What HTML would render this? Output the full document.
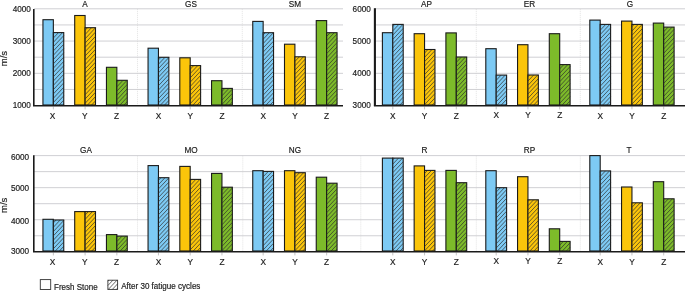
<!DOCTYPE html>
<html><head><meta charset="utf-8"><title>chart</title>
<style>
html,body{margin:0;padding:0;background:#fff}
svg{display:block}
text{font-family:"Liberation Sans",Arial,sans-serif;fill:#1c1c1c;stroke:#1c1c1c;stroke-width:0.18px}
.t{font-size:8.2px}
.u{font-size:9.5px}
.l{font-size:8.2px}
.g{stroke:#cbcbcf;stroke-width:0.9}
.d{stroke:#d0d0d0;stroke-width:0.6;stroke-dasharray:1 1}
.b{stroke:#1a1a1a;stroke-width:1.1}
.lb{stroke:#333;stroke-width:0.9}
.ax{stroke:#1a1a1a;stroke-width:1.6;fill:none}
.h{stroke:#2c2c2c;stroke-width:0.7;fill:none}
.tk{stroke:#b5b5b5;stroke-width:0.8}
.x{font-size:8.3px}
</style></head><body>
<svg width="685" height="291" viewBox="0 0 685 291">
<rect width="685" height="291" fill="#fff"/>
<g opacity="0.999">
<line x1="34" y1="8.80" x2="343" y2="8.80" class="g"/>
<line x1="34" y1="24.93" x2="343" y2="24.93" class="g"/>
<line x1="34" y1="41.07" x2="343" y2="41.07" class="g"/>
<line x1="34" y1="57.20" x2="343" y2="57.20" class="g"/>
<line x1="34" y1="73.33" x2="343" y2="73.33" class="g"/>
<line x1="34" y1="89.47" x2="343" y2="89.47" class="g"/>
<line x1="137.5" y1="8.8" x2="137.5" y2="105.0" class="d"/>
<line x1="242.3" y1="8.8" x2="242.3" y2="105.0" class="d"/>
<line x1="375.5" y1="8.80" x2="685" y2="8.80" class="g"/>
<line x1="375.5" y1="24.93" x2="685" y2="24.93" class="g"/>
<line x1="375.5" y1="41.07" x2="685" y2="41.07" class="g"/>
<line x1="375.5" y1="57.20" x2="685" y2="57.20" class="g"/>
<line x1="375.5" y1="73.33" x2="685" y2="73.33" class="g"/>
<line x1="375.5" y1="89.47" x2="685" y2="89.47" class="g"/>
<line x1="476.3" y1="8.8" x2="476.3" y2="105.0" class="d"/>
<line x1="580.3" y1="8.8" x2="580.3" y2="105.0" class="d"/>
<line x1="34" y1="155.60" x2="685" y2="155.60" class="g"/>
<line x1="34" y1="171.63" x2="685" y2="171.63" class="g"/>
<line x1="34" y1="187.67" x2="685" y2="187.67" class="g"/>
<line x1="34" y1="203.70" x2="685" y2="203.70" class="g"/>
<line x1="34" y1="219.73" x2="685" y2="219.73" class="g"/>
<line x1="34" y1="235.77" x2="685" y2="235.77" class="g"/>
<line x1="137.5" y1="155.6" x2="137.5" y2="251.0" class="d"/>
<line x1="242.8" y1="155.6" x2="242.8" y2="251.0" class="d"/>
<line x1="360.8" y1="155.6" x2="360.8" y2="251.0" class="d"/>
<line x1="476.3" y1="155.6" x2="476.3" y2="251.0" class="d"/>
<line x1="580.3" y1="155.6" x2="580.3" y2="251.0" class="d"/>
<text x="85" y="7.4" class="t" text-anchor="middle">A</text>
<rect x="42.95" y="19.70" width="10.4" height="85.30" fill="#7dcaf4" class="b"/>
<rect x="53.35" y="32.60" width="10.4" height="72.40" fill="#7dcaf4" class="b"/>
<path d="M53.35 33.75L54.43 32.60M53.35 38.05L58.49 32.60M53.35 42.35L62.55 32.60M53.35 46.65L63.75 35.62M53.35 50.95L63.75 39.92M53.35 55.25L63.75 44.22M53.35 59.55L63.75 48.52M53.35 63.85L63.75 52.82M53.35 68.15L63.75 57.12M53.35 72.45L63.75 61.42M53.35 76.75L63.75 65.72M53.35 81.05L63.75 70.02M53.35 85.35L63.75 74.33M53.35 89.65L63.75 78.62M53.35 93.95L63.75 82.92M53.35 98.25L63.75 87.22M53.35 102.55L63.75 91.52M55.09 105.00L63.75 95.83M59.15 105.00L63.75 100.12M63.21 105.00L63.75 104.42" class="h"/>
<line x1="53.35" y1="106.6" x2="53.35" y2="109.4" class="tk"/>
<text x="52.55" y="118.7" class="x" text-anchor="middle">X</text>
<rect x="74.70" y="15.50" width="10.4" height="89.50" fill="#fbc50a" class="b"/>
<rect x="85.10" y="27.70" width="10.4" height="77.30" fill="#fbc50a" class="b"/>
<path d="M85.10 30.19L87.45 27.70M85.10 34.49L91.51 27.70M85.10 38.79L95.50 27.77M85.10 43.09L95.50 32.07M85.10 47.39L95.50 36.37M85.10 51.69L95.50 40.67M85.10 55.99L95.50 44.97M85.10 60.29L95.50 49.27M85.10 64.59L95.50 53.57M85.10 68.89L95.50 57.87M85.10 73.19L95.50 62.17M85.10 77.49L95.50 66.47M85.10 81.79L95.50 70.77M85.10 86.09L95.50 75.07M85.10 90.39L95.50 79.37M85.10 94.69L95.50 83.67M85.10 98.99L95.50 87.97M85.10 103.29L95.50 92.27M87.55 105.00L95.50 96.57M91.60 105.00L95.50 100.87" class="h"/>
<line x1="85.10" y1="106.6" x2="85.10" y2="109.4" class="tk"/>
<text x="84.80" y="118.7" class="x" text-anchor="middle">Y</text>
<rect x="106.45" y="67.30" width="10.4" height="37.70" fill="#7dbb2a" class="b"/>
<rect x="116.85" y="80.30" width="10.4" height="24.70" fill="#7dbb2a" class="b"/>
<path d="M116.85 82.54L118.96 80.30M116.85 86.84L123.02 80.30M116.85 91.14L127.08 80.30M116.85 95.44L127.25 84.41M116.85 99.74L127.25 88.71M116.85 104.04L127.25 93.01M120.00 105.00L127.25 97.31M124.06 105.00L127.25 101.61" class="h"/>
<line x1="116.85" y1="106.6" x2="116.85" y2="109.4" class="tk"/>
<text x="116.55" y="118.7" class="x" text-anchor="middle">Z</text>
<text x="191" y="7.4" class="t" text-anchor="middle">GS</text>
<rect x="148.05" y="48.20" width="10.4" height="56.80" fill="#7dcaf4" class="b"/>
<rect x="158.45" y="57.30" width="10.4" height="47.70" fill="#7dcaf4" class="b"/>
<path d="M158.45 59.94L160.94 57.30M158.45 64.24L165.00 57.30M158.45 68.54L168.85 57.52M158.45 72.84L168.85 61.82M158.45 77.14L168.85 66.12M158.45 81.44L168.85 70.42M158.45 85.74L168.85 74.72M158.45 90.04L168.85 79.02M158.45 94.34L168.85 83.32M158.45 98.64L168.85 87.62M158.45 102.94L168.85 91.92M160.57 105.00L168.85 96.22M164.62 105.00L168.85 100.52" class="h"/>
<line x1="158.45" y1="106.6" x2="158.45" y2="109.4" class="tk"/>
<text x="158.45" y="118.7" class="x" text-anchor="middle">X</text>
<rect x="179.80" y="57.80" width="10.4" height="47.20" fill="#fbc50a" class="b"/>
<rect x="190.20" y="65.60" width="10.4" height="39.40" fill="#fbc50a" class="b"/>
<path d="M190.20 69.29L193.68 65.60M190.20 73.59L197.74 65.60M190.20 77.89L200.60 66.86M190.20 82.19L200.60 71.16M190.20 86.49L200.60 75.46M190.20 90.79L200.60 79.76M190.20 95.09L200.60 84.06M190.20 99.39L200.60 88.36M190.20 103.69L200.60 92.66M193.02 105.00L200.60 96.96M197.08 105.00L200.60 101.26" class="h"/>
<line x1="190.20" y1="106.6" x2="190.20" y2="109.4" class="tk"/>
<text x="190.20" y="118.7" class="x" text-anchor="middle">Y</text>
<rect x="211.55" y="80.70" width="10.4" height="24.30" fill="#7dbb2a" class="b"/>
<rect x="221.95" y="88.40" width="10.4" height="16.60" fill="#7dbb2a" class="b"/>
<path d="M221.95 91.53L224.91 88.40M221.95 95.83L228.96 88.40M221.95 100.13L232.35 89.11M221.95 104.43L232.35 93.41M225.47 105.00L232.35 97.71M229.53 105.00L232.35 102.01" class="h"/>
<line x1="221.95" y1="106.6" x2="221.95" y2="109.4" class="tk"/>
<text x="221.95" y="118.7" class="x" text-anchor="middle">Z</text>
<text x="295" y="7.4" class="t" text-anchor="middle">SM</text>
<rect x="252.75" y="21.40" width="10.4" height="83.60" fill="#7dcaf4" class="b"/>
<rect x="263.15" y="32.70" width="10.4" height="72.30" fill="#7dcaf4" class="b"/>
<path d="M263.15 34.96L265.28 32.70M263.15 39.26L269.34 32.70M263.15 43.56L273.40 32.70M263.15 47.86L273.55 36.84M263.15 52.16L273.55 41.14M263.15 56.46L273.55 45.44M263.15 60.76L273.55 49.74M263.15 65.06L273.55 54.04M263.15 69.36L273.55 58.34M263.15 73.66L273.55 62.64M263.15 77.96L273.55 66.94M263.15 82.26L273.55 71.24M263.15 86.56L273.55 75.54M263.15 90.86L273.55 79.84M263.15 95.16L273.55 84.14M263.15 99.46L273.55 88.44M263.15 103.76L273.55 92.74M266.04 105.00L273.55 97.04M270.09 105.00L273.55 101.34" class="h"/>
<line x1="263.15" y1="106.6" x2="263.15" y2="109.4" class="tk"/>
<text x="263.15" y="118.7" class="x" text-anchor="middle">X</text>
<rect x="284.50" y="44.20" width="10.4" height="60.80" fill="#fbc50a" class="b"/>
<rect x="294.90" y="56.80" width="10.4" height="48.20" fill="#fbc50a" class="b"/>
<path d="M294.90 57.21L295.28 56.80M294.90 61.51L299.34 56.80M294.90 65.81L303.40 56.80M294.90 70.11L305.30 59.08M294.90 74.41L305.30 63.38M294.90 78.71L305.30 67.68M294.90 83.01L305.30 71.98M294.90 87.31L305.30 76.28M294.90 91.61L305.30 80.58M294.90 95.91L305.30 84.88M294.90 100.21L305.30 89.18M294.90 104.51L305.30 93.48M298.49 105.00L305.30 97.78M302.55 105.00L305.30 102.08" class="h"/>
<line x1="294.90" y1="106.6" x2="294.90" y2="109.4" class="tk"/>
<text x="294.90" y="118.7" class="x" text-anchor="middle">Y</text>
<rect x="316.25" y="20.60" width="10.4" height="84.40" fill="#7dbb2a" class="b"/>
<rect x="326.65" y="32.70" width="10.4" height="72.30" fill="#7dbb2a" class="b"/>
<path d="M326.65 36.45L330.19 32.70M326.65 40.75L334.25 32.70M326.65 45.05L337.05 34.03M326.65 49.35L337.05 38.33M326.65 53.65L337.05 42.63M326.65 57.95L337.05 46.93M326.65 62.25L337.05 51.23M326.65 66.55L337.05 55.53M326.65 70.85L337.05 59.83M326.65 75.15L337.05 64.13M326.65 79.45L337.05 68.43M326.65 83.75L337.05 72.73M326.65 88.05L337.05 77.03M326.65 92.35L337.05 81.33M326.65 96.65L337.05 85.63M326.65 100.95L337.05 89.93M326.89 105.00L337.05 94.23M330.94 105.00L337.05 98.53M335.00 105.00L337.05 102.83" class="h"/>
<line x1="326.65" y1="106.6" x2="326.65" y2="109.4" class="tk"/>
<text x="326.65" y="118.7" class="x" text-anchor="middle">Z</text>
<text x="426.5" y="6.6" class="t" text-anchor="middle">AP</text>
<rect x="382.40" y="32.70" width="10.4" height="72.30" fill="#7dcaf4" class="b"/>
<rect x="392.80" y="24.40" width="10.4" height="80.60" fill="#7dcaf4" class="b"/>
<path d="M392.80 26.53L394.81 24.40M392.80 30.83L398.87 24.40M392.80 35.13L402.92 24.40M392.80 39.43L403.20 28.41M392.80 43.73L403.20 32.71M392.80 48.03L403.20 37.01M392.80 52.33L403.20 41.31M392.80 56.63L403.20 45.61M392.80 60.93L403.20 49.91M392.80 65.23L403.20 54.21M392.80 69.53L403.20 58.51M392.80 73.83L403.20 62.81M392.80 78.13L403.20 67.11M392.80 82.43L403.20 71.41M392.80 86.73L403.20 75.71M392.80 91.03L403.20 80.01M392.80 95.33L403.20 84.31M392.80 99.63L403.20 88.61M392.80 103.93L403.20 92.91M395.85 105.00L403.20 97.21M399.91 105.00L403.20 101.51" class="h"/>
<line x1="392.80" y1="106.6" x2="392.80" y2="109.4" class="tk"/>
<text x="392.80" y="118.7" class="x" text-anchor="middle">X</text>
<rect x="414.15" y="33.70" width="10.4" height="71.30" fill="#fbc50a" class="b"/>
<rect x="424.55" y="49.50" width="10.4" height="55.50" fill="#fbc50a" class="b"/>
<path d="M424.55 53.08L427.92 49.50M424.55 57.38L431.98 49.50M424.55 61.68L434.95 50.65M424.55 65.98L434.95 54.95M424.55 70.28L434.95 59.25M424.55 74.58L434.95 63.55M424.55 78.88L434.95 67.85M424.55 83.18L434.95 72.15M424.55 87.48L434.95 76.45M424.55 91.78L434.95 80.75M424.55 96.08L434.95 85.05M424.55 100.38L434.95 89.35M424.55 104.68L434.95 93.65M428.30 105.00L434.95 97.95M432.36 105.00L434.95 102.25" class="h"/>
<line x1="424.55" y1="106.6" x2="424.55" y2="109.4" class="tk"/>
<text x="424.55" y="118.7" class="x" text-anchor="middle">Y</text>
<rect x="445.90" y="32.90" width="10.4" height="72.10" fill="#7dbb2a" class="b"/>
<rect x="456.30" y="57.00" width="10.4" height="48.00" fill="#7dbb2a" class="b"/>
<path d="M456.30 58.12L457.36 57.00M456.30 62.42L461.42 57.00M456.30 66.72L465.47 57.00M456.30 71.02L466.70 60.00M456.30 75.32L466.70 64.30M456.30 79.62L466.70 68.60M456.30 83.92L466.70 72.90M456.30 88.22L466.70 77.20M456.30 92.52L466.70 81.50M456.30 96.82L466.70 85.80M456.30 101.12L466.70 90.10M456.70 105.00L466.70 94.40M460.75 105.00L466.70 98.70M464.81 105.00L466.70 103.00" class="h"/>
<line x1="456.30" y1="106.6" x2="456.30" y2="109.4" class="tk"/>
<text x="456.30" y="118.7" class="x" text-anchor="middle">Z</text>
<text x="529.5" y="6.6" class="t" text-anchor="middle">ER</text>
<rect x="485.80" y="48.70" width="10.4" height="56.30" fill="#7dcaf4" class="b"/>
<rect x="496.20" y="75.10" width="10.4" height="29.90" fill="#7dcaf4" class="b"/>
<path d="M496.20 76.03L497.08 75.10M496.20 80.33L501.13 75.10M496.20 84.63L505.19 75.10M496.20 88.93L506.60 77.90M496.20 93.23L506.60 82.20M496.20 97.53L506.60 86.50M496.20 101.83L506.60 90.80M497.26 105.00L506.60 95.10M501.32 105.00L506.60 99.40M505.38 105.00L506.60 103.70" class="h"/>
<line x1="496.20" y1="106.6" x2="496.20" y2="109.4" class="tk"/>
<text x="496.20" y="117.8" class="x" text-anchor="middle">X</text>
<rect x="517.55" y="44.70" width="10.4" height="60.30" fill="#fbc50a" class="b"/>
<rect x="527.95" y="75.00" width="10.4" height="30.00" fill="#fbc50a" class="b"/>
<path d="M527.95 76.77L529.62 75.00M527.95 81.07L533.68 75.00M527.95 85.37L537.74 75.00M527.95 89.67L538.35 78.65M527.95 93.97L538.35 82.95M527.95 98.27L538.35 87.25M527.95 102.57L538.35 91.55M529.72 105.00L538.35 95.85M533.77 105.00L538.35 100.15M537.83 105.00L538.35 104.45" class="h"/>
<line x1="527.95" y1="106.6" x2="527.95" y2="109.4" class="tk"/>
<text x="527.95" y="117.8" class="x" text-anchor="middle">Y</text>
<rect x="549.30" y="33.70" width="10.4" height="71.30" fill="#7dbb2a" class="b"/>
<rect x="559.70" y="64.60" width="10.4" height="40.40" fill="#7dbb2a" class="b"/>
<path d="M559.70 68.92L563.77 64.60M559.70 73.22L567.83 64.60M559.70 77.52L570.10 66.49M559.70 81.82L570.10 70.79M559.70 86.12L570.10 75.09M559.70 90.42L570.10 79.39M559.70 94.72L570.10 83.69M559.70 99.02L570.10 87.99M559.70 103.32L570.10 92.29M562.17 105.00L570.10 96.59M566.23 105.00L570.10 100.89" class="h"/>
<line x1="559.70" y1="106.6" x2="559.70" y2="109.4" class="tk"/>
<text x="559.70" y="117.8" class="x" text-anchor="middle">Z</text>
<text x="630" y="6.6" class="t" text-anchor="middle">G</text>
<rect x="589.80" y="20.10" width="10.4" height="84.90" fill="#7dcaf4" class="b"/>
<rect x="600.20" y="24.40" width="10.4" height="80.60" fill="#7dcaf4" class="b"/>
<path d="M600.20 25.99L601.70 24.40M600.20 30.29L605.75 24.40M600.20 34.59L609.81 24.40M600.20 38.89L610.60 27.86M600.20 43.19L610.60 32.16M600.20 47.49L610.60 36.46M600.20 51.79L610.60 40.76M600.20 56.09L610.60 45.06M600.20 60.39L610.60 49.36M600.20 64.69L610.60 53.66M600.20 68.99L610.60 57.96M600.20 73.29L610.60 62.26M600.20 77.59L610.60 66.56M600.20 81.89L610.60 70.86M600.20 86.19L610.60 75.16M600.20 90.49L610.60 79.46M600.20 94.79L610.60 83.76M600.20 99.09L610.60 88.06M600.20 103.39L610.60 92.36M602.74 105.00L610.60 96.66M606.79 105.00L610.60 100.96" class="h"/>
<line x1="600.20" y1="106.6" x2="600.20" y2="109.4" class="tk"/>
<text x="600.20" y="118.7" class="x" text-anchor="middle">X</text>
<rect x="621.55" y="21.10" width="10.4" height="83.90" fill="#fbc50a" class="b"/>
<rect x="631.95" y="24.40" width="10.4" height="80.60" fill="#fbc50a" class="b"/>
<path d="M631.95 26.73L634.15 24.40M631.95 31.03L638.21 24.40M631.95 35.33L642.26 24.40M631.95 39.63L642.35 28.61M631.95 43.93L642.35 32.91M631.95 48.23L642.35 37.21M631.95 52.53L642.35 41.51M631.95 56.83L642.35 45.81M631.95 61.13L642.35 50.11M631.95 65.43L642.35 54.41M631.95 69.73L642.35 58.71M631.95 74.03L642.35 63.01M631.95 78.33L642.35 67.31M631.95 82.63L642.35 71.61M631.95 86.93L642.35 75.91M631.95 91.23L642.35 80.21M631.95 95.53L642.35 84.51M631.95 99.83L642.35 88.81M631.95 104.13L642.35 93.11M635.19 105.00L642.35 97.41M639.25 105.00L642.35 101.71" class="h"/>
<line x1="631.95" y1="106.6" x2="631.95" y2="109.4" class="tk"/>
<text x="631.95" y="118.7" class="x" text-anchor="middle">Y</text>
<rect x="653.30" y="23.10" width="10.4" height="81.90" fill="#7dbb2a" class="b"/>
<rect x="663.70" y="27.10" width="10.4" height="77.90" fill="#7dbb2a" class="b"/>
<path d="M663.70 27.48L664.06 27.10M663.70 31.78L668.11 27.10M663.70 36.08L672.17 27.10M663.70 40.38L674.10 29.35M663.70 44.68L674.10 33.65M663.70 48.98L674.10 37.95M663.70 53.28L674.10 42.25M663.70 57.58L674.10 46.55M663.70 61.88L674.10 50.85M663.70 66.18L674.10 55.15M663.70 70.48L674.10 59.45M663.70 74.78L674.10 63.75M663.70 79.08L674.10 68.05M663.70 83.38L674.10 72.35M663.70 87.68L674.10 76.65M663.70 91.98L674.10 80.95M663.70 96.28L674.10 85.25M663.70 100.58L674.10 89.55M663.70 104.88L674.10 93.85M667.64 105.00L674.10 98.15M671.70 105.00L674.10 102.45" class="h"/>
<line x1="663.70" y1="106.6" x2="663.70" y2="109.4" class="tk"/>
<text x="663.70" y="118.7" class="x" text-anchor="middle">Z</text>
<text x="86" y="153.4" class="t" text-anchor="middle">GA</text>
<rect x="42.95" y="219.30" width="10.4" height="31.70" fill="#7dcaf4" class="b"/>
<rect x="53.35" y="220.00" width="10.4" height="31.00" fill="#7dcaf4" class="b"/>
<path d="M53.35 222.95L56.13 220.00M53.35 227.25L60.19 220.00M53.35 231.55L63.75 220.52M53.35 235.85L63.75 224.82M53.35 240.15L63.75 229.12M53.35 244.45L63.75 233.43M53.35 248.75L63.75 237.73M55.28 251.00L63.75 242.02M59.34 251.00L63.75 246.32M63.40 251.00L63.75 250.62" class="h"/>
<line x1="53.35" y1="252.6" x2="53.35" y2="255.4" class="tk"/>
<text x="52.55" y="264.7" class="x" text-anchor="middle">X</text>
<rect x="74.70" y="211.60" width="10.4" height="39.40" fill="#fbc50a" class="b"/>
<rect x="85.10" y="211.60" width="10.4" height="39.40" fill="#fbc50a" class="b"/>
<path d="M85.10 215.09L88.40 211.60M85.10 219.39L92.45 211.60M85.10 223.69L95.50 212.67M85.10 227.99L95.50 216.97M85.10 232.29L95.50 221.27M85.10 236.59L95.50 225.57M85.10 240.89L95.50 229.87M85.10 245.19L95.50 234.17M85.10 249.49L95.50 238.47M87.74 251.00L95.50 242.77M91.79 251.00L95.50 247.07" class="h"/>
<line x1="85.10" y1="252.6" x2="85.10" y2="255.4" class="tk"/>
<text x="84.80" y="264.7" class="x" text-anchor="middle">Y</text>
<rect x="106.45" y="234.60" width="10.4" height="16.40" fill="#7dbb2a" class="b"/>
<rect x="116.85" y="236.10" width="10.4" height="14.90" fill="#7dbb2a" class="b"/>
<path d="M116.85 237.34L118.02 236.10M116.85 241.64L122.08 236.10M116.85 245.94L126.13 236.10M116.85 250.24L127.25 239.21M120.19 251.00L127.25 243.51M124.25 251.00L127.25 247.81" class="h"/>
<line x1="116.85" y1="252.6" x2="116.85" y2="255.4" class="tk"/>
<text x="116.55" y="264.7" class="x" text-anchor="middle">Z</text>
<text x="191" y="153.4" class="t" text-anchor="middle">MO</text>
<rect x="148.05" y="165.60" width="10.4" height="85.40" fill="#7dcaf4" class="b"/>
<rect x="158.45" y="177.70" width="10.4" height="73.30" fill="#7dcaf4" class="b"/>
<path d="M158.45 180.34L160.94 177.70M158.45 184.64L165.00 177.70M158.45 188.94L168.85 177.92M158.45 193.24L168.85 182.22M158.45 197.54L168.85 186.52M158.45 201.84L168.85 190.82M158.45 206.14L168.85 195.12M158.45 210.44L168.85 199.42M158.45 214.74L168.85 203.72M158.45 219.04L168.85 208.02M158.45 223.34L168.85 212.32M158.45 227.64L168.85 216.62M158.45 231.94L168.85 220.92M158.45 236.24L168.85 225.22M158.45 240.54L168.85 229.52M158.45 244.84L168.85 233.82M158.45 249.14L168.85 238.12M160.75 251.00L168.85 242.42M164.81 251.00L168.85 246.72" class="h"/>
<line x1="158.45" y1="252.6" x2="158.45" y2="255.4" class="tk"/>
<text x="158.45" y="264.7" class="x" text-anchor="middle">X</text>
<rect x="179.80" y="166.40" width="10.4" height="84.60" fill="#fbc50a" class="b"/>
<rect x="190.20" y="179.40" width="10.4" height="71.60" fill="#fbc50a" class="b"/>
<path d="M190.20 181.09L191.79 179.40M190.20 185.39L195.85 179.40M190.20 189.69L199.91 179.40M190.20 193.99L200.60 182.96M190.20 198.29L200.60 187.26M190.20 202.59L200.60 191.56M190.20 206.89L200.60 195.86M190.20 211.19L200.60 200.16M190.20 215.49L200.60 204.46M190.20 219.79L200.60 208.76M190.20 224.09L200.60 213.06M190.20 228.39L200.60 217.36M190.20 232.69L200.60 221.66M190.20 236.99L200.60 225.96M190.20 241.29L200.60 230.26M190.20 245.59L200.60 234.56M190.20 249.89L200.60 238.86M193.21 251.00L200.60 243.16M197.26 251.00L200.60 247.46" class="h"/>
<line x1="190.20" y1="252.6" x2="190.20" y2="255.4" class="tk"/>
<text x="190.20" y="264.7" class="x" text-anchor="middle">Y</text>
<rect x="211.55" y="173.40" width="10.4" height="77.60" fill="#7dbb2a" class="b"/>
<rect x="221.95" y="187.20" width="10.4" height="63.80" fill="#7dbb2a" class="b"/>
<path d="M221.95 190.43L225.00 187.20M221.95 194.73L229.06 187.20M221.95 199.03L232.35 188.01M221.95 203.33L232.35 192.31M221.95 207.63L232.35 196.61M221.95 211.93L232.35 200.91M221.95 216.23L232.35 205.21M221.95 220.53L232.35 209.51M221.95 224.83L232.35 213.81M221.95 229.13L232.35 218.11M221.95 233.43L232.35 222.41M221.95 237.73L232.35 226.71M221.95 242.03L232.35 231.01M221.95 246.33L232.35 235.31M221.95 250.63L232.35 239.61M225.66 251.00L232.35 243.91M229.72 251.00L232.35 248.21" class="h"/>
<line x1="221.95" y1="252.6" x2="221.95" y2="255.4" class="tk"/>
<text x="221.95" y="264.7" class="x" text-anchor="middle">Z</text>
<text x="295" y="153.4" class="t" text-anchor="middle">NG</text>
<rect x="252.75" y="170.70" width="10.4" height="80.30" fill="#7dcaf4" class="b"/>
<rect x="263.15" y="171.40" width="10.4" height="79.60" fill="#7dcaf4" class="b"/>
<path d="M263.15 172.56L264.25 171.40M263.15 176.86L268.30 171.40M263.15 181.16L272.36 171.40M263.15 185.46L273.55 174.44M263.15 189.76L273.55 178.74M263.15 194.06L273.55 183.04M263.15 198.36L273.55 187.34M263.15 202.66L273.55 191.64M263.15 206.96L273.55 195.94M263.15 211.26L273.55 200.24M263.15 215.56L273.55 204.54M263.15 219.86L273.55 208.84M263.15 224.16L273.55 213.14M263.15 228.46L273.55 217.44M263.15 232.76L273.55 221.74M263.15 237.06L273.55 226.04M263.15 241.36L273.55 230.34M263.15 245.66L273.55 234.64M263.15 249.96L273.55 238.94M266.23 251.00L273.55 243.24M270.28 251.00L273.55 247.54" class="h"/>
<line x1="263.15" y1="252.6" x2="263.15" y2="255.4" class="tk"/>
<text x="263.15" y="264.7" class="x" text-anchor="middle">X</text>
<rect x="284.50" y="170.70" width="10.4" height="80.30" fill="#fbc50a" class="b"/>
<rect x="294.90" y="172.70" width="10.4" height="78.30" fill="#fbc50a" class="b"/>
<path d="M294.90 173.31L295.47 172.70M294.90 177.61L299.53 172.70M294.90 181.91L303.58 172.70M294.90 186.21L305.30 175.18M294.90 190.51L305.30 179.48M294.90 194.81L305.30 183.78M294.90 199.11L305.30 188.08M294.90 203.41L305.30 192.38M294.90 207.71L305.30 196.68M294.90 212.01L305.30 200.98M294.90 216.31L305.30 205.28M294.90 220.61L305.30 209.58M294.90 224.91L305.30 213.88M294.90 229.21L305.30 218.18M294.90 233.51L305.30 222.48M294.90 237.81L305.30 226.78M294.90 242.11L305.30 231.08M294.90 246.41L305.30 235.38M294.90 250.71L305.30 239.68M298.68 251.00L305.30 243.98M302.74 251.00L305.30 248.28" class="h"/>
<line x1="294.90" y1="252.6" x2="294.90" y2="255.4" class="tk"/>
<text x="294.90" y="264.7" class="x" text-anchor="middle">Y</text>
<rect x="316.25" y="177.20" width="10.4" height="73.80" fill="#7dbb2a" class="b"/>
<rect x="326.65" y="183.20" width="10.4" height="67.80" fill="#7dbb2a" class="b"/>
<path d="M326.65 186.95L330.19 183.20M326.65 191.25L334.25 183.20M326.65 195.55L337.05 184.53M326.65 199.85L337.05 188.83M326.65 204.15L337.05 193.13M326.65 208.45L337.05 197.43M326.65 212.75L337.05 201.73M326.65 217.05L337.05 206.03M326.65 221.35L337.05 210.33M326.65 225.65L337.05 214.63M326.65 229.95L337.05 218.93M326.65 234.25L337.05 223.23M326.65 238.55L337.05 227.53M326.65 242.85L337.05 231.83M326.65 247.15L337.05 236.13M327.08 251.00L337.05 240.43M331.13 251.00L337.05 244.73M335.19 251.00L337.05 249.03" class="h"/>
<line x1="326.65" y1="252.6" x2="326.65" y2="255.4" class="tk"/>
<text x="326.65" y="264.7" class="x" text-anchor="middle">Z</text>
<text x="424.5" y="152.8" class="t" text-anchor="middle">R</text>
<rect x="382.40" y="158.10" width="10.4" height="92.90" fill="#7dcaf4" class="b"/>
<rect x="392.80" y="158.10" width="10.4" height="92.90" fill="#7dcaf4" class="b"/>
<path d="M392.80 159.83L394.43 158.10M392.80 164.13L398.49 158.10M392.80 168.43L402.55 158.10M392.80 172.73L403.20 161.71M392.80 177.03L403.20 166.01M392.80 181.33L403.20 170.31M392.80 185.63L403.20 174.61M392.80 189.93L403.20 178.91M392.80 194.23L403.20 183.21M392.80 198.53L403.20 187.51M392.80 202.83L403.20 191.81M392.80 207.13L403.20 196.11M392.80 211.43L403.20 200.41M392.80 215.73L403.20 204.71M392.80 220.03L403.20 209.01M392.80 224.33L403.20 213.31M392.80 228.63L403.20 217.61M392.80 232.93L403.20 221.91M392.80 237.23L403.20 226.21M392.80 241.53L403.20 230.51M392.80 245.83L403.20 234.81M392.80 250.13L403.20 239.11M396.04 251.00L403.20 243.41M400.09 251.00L403.20 247.71" class="h"/>
<line x1="392.80" y1="252.6" x2="392.80" y2="255.4" class="tk"/>
<text x="392.80" y="264.7" class="x" text-anchor="middle">X</text>
<rect x="414.15" y="165.90" width="10.4" height="85.10" fill="#fbc50a" class="b"/>
<rect x="424.55" y="170.40" width="10.4" height="80.60" fill="#fbc50a" class="b"/>
<path d="M424.55 173.48L427.45 170.40M424.55 177.78L431.51 170.40M424.55 182.08L434.95 171.05M424.55 186.38L434.95 175.35M424.55 190.68L434.95 179.65M424.55 194.98L434.95 183.95M424.55 199.28L434.95 188.25M424.55 203.58L434.95 192.55M424.55 207.88L434.95 196.85M424.55 212.18L434.95 201.15M424.55 216.48L434.95 205.45M424.55 220.78L434.95 209.75M424.55 225.08L434.95 214.05M424.55 229.38L434.95 218.35M424.55 233.68L434.95 222.65M424.55 237.98L434.95 226.95M424.55 242.28L434.95 231.25M424.55 246.58L434.95 235.55M424.55 250.88L434.95 239.85M428.49 251.00L434.95 244.15M432.55 251.00L434.95 248.45" class="h"/>
<line x1="424.55" y1="252.6" x2="424.55" y2="255.4" class="tk"/>
<text x="424.55" y="264.7" class="x" text-anchor="middle">Y</text>
<rect x="445.90" y="170.40" width="10.4" height="80.60" fill="#7dbb2a" class="b"/>
<rect x="456.30" y="182.70" width="10.4" height="68.30" fill="#7dbb2a" class="b"/>
<path d="M456.30 187.12L460.47 182.70M456.30 191.42L464.53 182.70M456.30 195.72L466.70 184.70M456.30 200.02L466.70 189.00M456.30 204.32L466.70 193.30M456.30 208.62L466.70 197.60M456.30 212.92L466.70 201.90M456.30 217.22L466.70 206.20M456.30 221.52L466.70 210.50M456.30 225.82L466.70 214.80M456.30 230.12L466.70 219.10M456.30 234.42L466.70 223.40M456.30 238.72L466.70 227.70M456.30 243.02L466.70 232.00M456.30 247.32L466.70 236.30M456.89 251.00L466.70 240.60M460.94 251.00L466.70 244.90M465.00 251.00L466.70 249.20" class="h"/>
<line x1="456.30" y1="252.6" x2="456.30" y2="255.4" class="tk"/>
<text x="456.30" y="264.7" class="x" text-anchor="middle">Z</text>
<text x="529.5" y="152.8" class="t" text-anchor="middle">RP</text>
<rect x="485.80" y="170.70" width="10.4" height="80.30" fill="#7dcaf4" class="b"/>
<rect x="496.20" y="187.70" width="10.4" height="63.30" fill="#7dcaf4" class="b"/>
<path d="M496.20 192.13L500.38 187.70M496.20 196.43L504.43 187.70M496.20 200.73L506.60 189.70M496.20 205.03L506.60 194.00M496.20 209.33L506.60 198.30M496.20 213.63L506.60 202.60M496.20 217.93L506.60 206.90M496.20 222.23L506.60 211.20M496.20 226.53L506.60 215.50M496.20 230.83L506.60 219.80M496.20 235.13L506.60 224.10M496.20 239.43L506.60 228.40M496.20 243.73L506.60 232.70M496.20 248.03L506.60 237.00M497.45 251.00L506.60 241.30M501.51 251.00L506.60 245.60M505.57 251.00L506.60 249.90" class="h"/>
<line x1="496.20" y1="252.6" x2="496.20" y2="255.4" class="tk"/>
<text x="496.20" y="264.0" class="x" text-anchor="middle">X</text>
<rect x="517.55" y="176.70" width="10.4" height="74.30" fill="#fbc50a" class="b"/>
<rect x="527.95" y="199.80" width="10.4" height="51.20" fill="#fbc50a" class="b"/>
<path d="M527.95 201.47L529.53 199.80M527.95 205.77L533.58 199.80M527.95 210.07L537.64 199.80M527.95 214.37L538.35 203.35M527.95 218.67L538.35 207.65M527.95 222.97L538.35 211.95M527.95 227.27L538.35 216.25M527.95 231.57L538.35 220.55M527.95 235.87L538.35 224.85M527.95 240.17L538.35 229.15M527.95 244.47L538.35 233.45M527.95 248.77L538.35 237.75M529.91 251.00L538.35 242.05M533.96 251.00L538.35 246.35M538.02 251.00L538.35 250.65" class="h"/>
<line x1="527.95" y1="252.6" x2="527.95" y2="255.4" class="tk"/>
<text x="527.95" y="264.0" class="x" text-anchor="middle">Y</text>
<rect x="549.30" y="228.80" width="10.4" height="22.20" fill="#7dbb2a" class="b"/>
<rect x="559.70" y="241.40" width="10.4" height="9.60" fill="#7dbb2a" class="b"/>
<path d="M559.70 245.22L563.30 241.40M559.70 249.52L567.36 241.40M562.36 251.00L570.10 242.79M566.42 251.00L570.10 247.09" class="h"/>
<line x1="559.70" y1="252.6" x2="559.70" y2="255.4" class="tk"/>
<text x="559.70" y="264.0" class="x" text-anchor="middle">Z</text>
<text x="629" y="152.8" class="t" text-anchor="middle">T</text>
<rect x="589.80" y="155.60" width="10.4" height="95.40" fill="#7dcaf4" class="b"/>
<rect x="600.20" y="170.90" width="10.4" height="80.10" fill="#7dcaf4" class="b"/>
<path d="M600.20 172.19L601.42 170.90M600.20 176.49L605.47 170.90M600.20 180.79L609.53 170.90M600.20 185.09L610.60 174.06M600.20 189.39L610.60 178.36M600.20 193.69L610.60 182.66M600.20 197.99L610.60 186.96M600.20 202.29L610.60 191.26M600.20 206.59L610.60 195.56M600.20 210.89L610.60 199.86M600.20 215.19L610.60 204.16M600.20 219.49L610.60 208.46M600.20 223.79L610.60 212.76M600.20 228.09L610.60 217.06M600.20 232.39L610.60 221.36M600.20 236.69L610.60 225.66M600.20 240.99L610.60 229.96M600.20 245.29L610.60 234.26M600.20 249.59L610.60 238.56M602.92 251.00L610.60 242.86M606.98 251.00L610.60 247.16" class="h"/>
<line x1="600.20" y1="252.6" x2="600.20" y2="255.4" class="tk"/>
<text x="600.20" y="264.7" class="x" text-anchor="middle">X</text>
<rect x="621.55" y="187.00" width="10.4" height="64.00" fill="#fbc50a" class="b"/>
<rect x="631.95" y="202.80" width="10.4" height="48.20" fill="#fbc50a" class="b"/>
<path d="M631.95 207.33L636.23 202.80M631.95 211.63L640.28 202.80M631.95 215.93L642.35 204.91M631.95 220.23L642.35 209.21M631.95 224.53L642.35 213.51M631.95 228.83L642.35 217.81M631.95 233.13L642.35 222.11M631.95 237.43L642.35 226.41M631.95 241.73L642.35 230.71M631.95 246.03L642.35 235.01M631.95 250.33L642.35 239.31M635.38 251.00L642.35 243.61M639.43 251.00L642.35 247.91" class="h"/>
<line x1="631.95" y1="252.6" x2="631.95" y2="255.4" class="tk"/>
<text x="631.95" y="264.7" class="x" text-anchor="middle">Y</text>
<rect x="653.30" y="181.70" width="10.4" height="69.30" fill="#7dbb2a" class="b"/>
<rect x="663.70" y="198.80" width="10.4" height="52.20" fill="#7dbb2a" class="b"/>
<path d="M663.70 199.48L664.34 198.80M663.70 203.78L668.40 198.80M663.70 208.08L672.45 198.80M663.70 212.38L674.10 201.35M663.70 216.68L674.10 205.65M663.70 220.98L674.10 209.95M663.70 225.28L674.10 214.25M663.70 229.58L674.10 218.55M663.70 233.88L674.10 222.85M663.70 238.18L674.10 227.15M663.70 242.48L674.10 231.45M663.70 246.78L674.10 235.75M663.77 251.00L674.10 240.05M667.83 251.00L674.10 244.35M671.89 251.00L674.10 248.65" class="h"/>
<line x1="663.70" y1="252.6" x2="663.70" y2="255.4" class="tk"/>
<text x="663.70" y="264.7" class="x" text-anchor="middle">Z</text>
<path d="M33.8 8.9V105.7H343" class="ax"/>
<path d="M374.9 8.2V105.7" class="ax" style="stroke-width:2.1"/>
<path d="M373.9 105.7H685" class="ax"/>
<path d="M33.8 155.2V251.7H685" class="ax"/>
<text x="30.9" y="12.4" class="t" text-anchor="end">4000</text>
<text x="30.9" y="44.2" class="t" text-anchor="end">3000</text>
<text x="30.9" y="76.2" class="t" text-anchor="end">2000</text>
<text x="30.9" y="107.9" class="t" text-anchor="end">1000</text>
<text x="370.8" y="11.8" class="t" text-anchor="end">6000</text>
<text x="370.8" y="43.9" class="t" text-anchor="end">5000</text>
<text x="370.8" y="75.9" class="t" text-anchor="end">4000</text>
<text x="370.8" y="108.0" class="t" text-anchor="end">3000</text>
<text x="29.1" y="160.2" class="t" text-anchor="end">6000</text>
<text x="29.1" y="191.4" class="t" text-anchor="end">5000</text>
<text x="29.1" y="224.3" class="t" text-anchor="end">4000</text>
<text x="29.1" y="253.8" class="t" text-anchor="end">3000</text>
<text transform="translate(7.4,58.6) rotate(-90)" class="u" text-anchor="middle">m/s</text>
<text transform="translate(7.4,205.3) rotate(-90)" class="u" text-anchor="middle">m/s</text>
<rect x="40.3" y="279.6" width="10.4" height="9.9" fill="#fff" class="lb"/>
<text x="54" y="289.5" class="l" textLength="43.6" lengthAdjust="spacingAndGlyphs">Fresh Stone</text>
<rect x="107.9" y="280.2" width="9.7" height="9.2" fill="#fff" class="lb"/>
<path d="M107.90 281.23L108.87 280.20M107.90 285.53L112.92 280.20M108.30 289.40L116.98 280.20M112.36 289.40L117.60 283.84M116.42 289.40L117.60 288.14" class="h"/>
<text x="121.2" y="289.0" class="l" textLength="79.2" lengthAdjust="spacingAndGlyphs">After 30 fatigue cycles</text>
</g>
</svg>
</body></html>
